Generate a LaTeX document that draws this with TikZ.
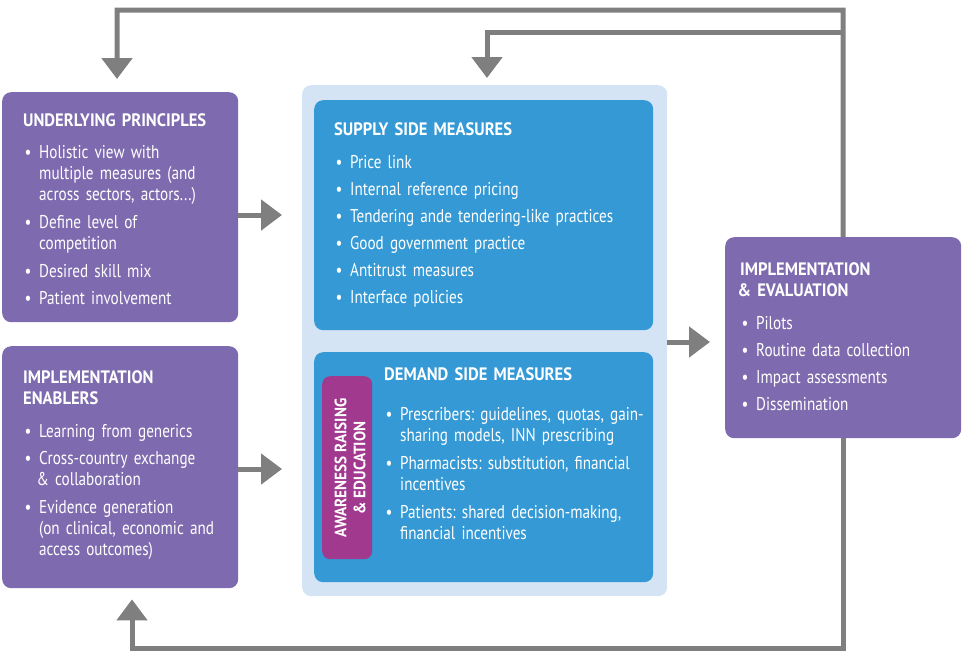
\documentclass[tikz,border=0pt]{standalone}
\usepackage{fontspec}
\setmainfont{PT Sans}[FakeStretch=0.82]
\newfontfamily\ttlfont{PT Sans}[FakeStretch=0.92]
\usetikzlibrary{arrows.meta}
\definecolor{purp}{HTML}{7E6BAF}
\definecolor{blu}{HTML}{3499D4}
\definecolor{lblu}{HTML}{D5E4F4}
\definecolor{mag}{HTML}{A1398F}
\definecolor{gry}{HTML}{7F7F7F}
\frenchspacing
\newcommand{\bitem}[1]{\par\noindent\makebox[16pt][l]{\hspace*{1.5pt}\textbullet}\begin{tabular}[t]{@{}l@{}}#1\end{tabular}\par\vspace{6pt}}
\newcommand{\ttl}[2]{\noindent\rule{0pt}{15pt}{\ttlfont\bfseries\fontsize{18}{21}\selectfont\begin{tabular}[t]{@{}l@{}}#1\end{tabular}}\par\vspace{#2}}
\newcommand{\amp}{\kern-2.5pt\&}
\tikzset{
  box/.style={rounded corners=9pt, inner sep=0pt, anchor=north west, draw=none},
  pbox/.style={box, fill=purp},
  bbox/.style={box, fill=blu},
  txt/.style={anchor=north west, inner sep=0pt, text width=300pt, align=left, text=white,
     font=\fontsize{18.5}{21}\selectfont},
  arr/.style={draw=gry, line width=5pt, -{Triangle[width=30pt,length=21pt]}},
}
\begin{document}
\begin{tikzpicture}[x=1pt,y=-1pt]
\useasboundingbox (0,0) rectangle (963,662);
% boxes
\node[pbox, minimum width=236pt, minimum height=230pt] (up) at (2,92) {};
\node[pbox, minimum width=236pt, minimum height=242pt] (en) at (2,346) {};
\node[box, fill=lblu, minimum width=365pt, minimum height=511pt] (outer) at (302,85) {};
\node[bbox, minimum width=339pt, minimum height=230pt] (sup) at (314,100) {};
\node[bbox, minimum width=339pt, minimum height=230pt] (dem) at (314,352) {};
\node[box, fill=mag, rounded corners=8pt, minimum width=50pt, minimum height=183pt] (aw) at (322,376) {};
\node[pbox, minimum width=236pt, minimum height=201pt] (ie) at (725,237) {};
% texts
\node[txt] (upt) at (23,111) {\ttl{UNDERLYING PRINCIPLES}{11pt}%
\bitem{Holistic view with\\multiple measures (and\\across sectors, actors...)}%
\bitem{Define level of\\competition}%
\bitem{Desired skill mix}%
\bitem{Patient involvement}};
\node[txt] (ent) at (23,368) {\ttl{IMPLEMENTATION\\ENABLERS}{11pt}%
\bitem{Learning from generics}%
\bitem{Cross-country exchange\\\amp{} collaboration}%
\bitem{Evidence generation\\(on clinical, economic and\\access outcomes)}};
\node[txt] (supt) at (334,120) {\ttl{SUPPLY SIDE MEASURES}{12pt}%
\bitem{Price link}%
\bitem{Internal reference pricing}%
\bitem{Tendering ande tendering-like practices}%
\bitem{Good government practice}%
\bitem{Antitrust measures}%
\bitem{Interface policies}};
\node[txt] (demt) at (384,365) {\ttl{DEMAND SIDE MEASURES}{19pt}%
\bitem{Prescribers: guidelines, quotas, gain-\\sharing models, INN prescribing}%
\bitem{Pharmacists: substitution, financial\\incentives}%
\bitem{Patients: shared decision-making,\\financial incentives}};
\node[txt] (iet) at (740,260) {\ttl{IMPLEMENTATION\\\amp{} EVALUATION}{11pt}%
\bitem{Pilots}%
\bitem{Routine data collection}%
\bitem{Impact assessments}%
\bitem{Dissemination}};
\node[rotate=90, align=center, text=white, inner sep=0pt,
  font=\ttlfont\bfseries\fontsize{16.5}{19}\selectfont] (awt) at (350,468) {AWARENESS RAISING\\\& EDUCATION};
% connectors
\draw[arr, shorten >=20pt] (up.east |- 0,215) -- (outer.west |- 0,215);
\draw[arr, shorten >=20pt] (en.east |- 0,469) -- (outer.west |- 0,469);
\draw[arr, shorten >=15pt] (outer.east |- 0,342) -- (ie.west |- 0,342);
\coordinate (c1) at (843,10);
\coordinate (c2) at (117,10);
\coordinate (j1) at (843,32);
\coordinate (c3) at (487,32);
\coordinate (c4) at (132,648);
\draw[arr, shorten >=13pt] (ie.north) -- (c1) -- (c2) -- (up.north -| c2);
\draw[arr, shorten >=7pt] (j1) -- (c3) -- (outer.north -| c3);
\draw[arr, shorten >=11pt] (ie.south) |- (c4) -- (en.south -| c4);
\end{tikzpicture}
\end{document}
